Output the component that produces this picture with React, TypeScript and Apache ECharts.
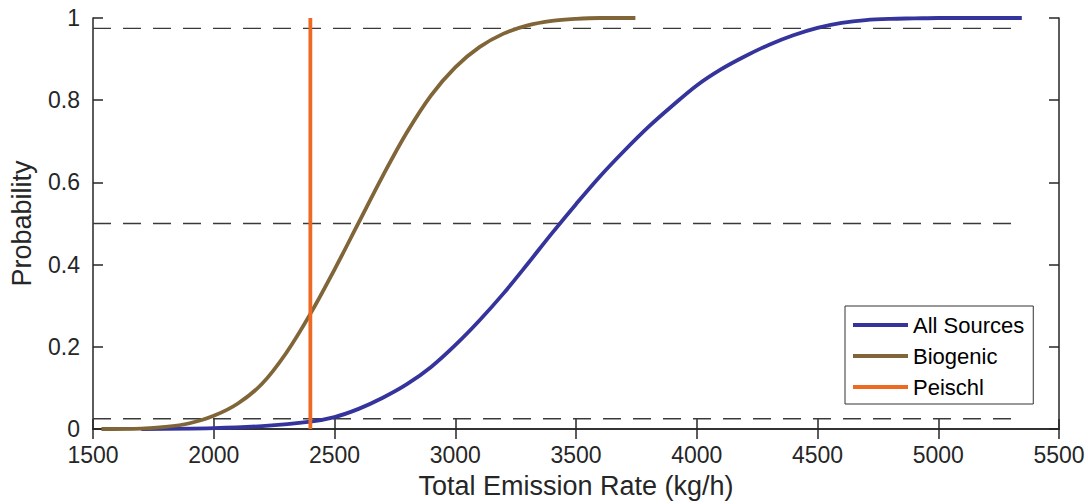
import React, { useEffect, useRef } from "react";
import * as echarts from "echarts";

const xTicks = [1500, 2000, 2500, 3000, 3500, 4000, 4500, 5000, 5500];
const yTicks = [0, 0.2, 0.4, 0.6, 0.8, 1];

const allX = [1700, 2000, 2200, 2400, 2500, 2600, 2700, 2800, 2900, 3000, 3100, 3200, 3300, 3400, 3500, 3600, 3700, 3800, 3900, 4000, 4100, 4200, 4300, 4400, 4500, 4600, 4700, 4800, 4900, 5000, 5346];
const allY = [0, 0.002, 0.007, 0.018, 0.029, 0.049, 0.076, 0.109, 0.151, 0.204, 0.264, 0.33, 0.402, 0.476, 0.547, 0.615, 0.677, 0.735, 0.787, 0.836, 0.875, 0.907, 0.935, 0.958, 0.976, 0.988, 0.995, 0.998, 0.999, 1.0, 1.0];

const bioX = [1535, 1700, 1800, 1900, 2000, 2100, 2200, 2300, 2400, 2500, 2600, 2700, 2800, 2900, 3000, 3100, 3200, 3300, 3400, 3500, 3600, 3746];
const bioY = [0, 0.001, 0.005, 0.014, 0.032, 0.062, 0.11, 0.185, 0.28, 0.388, 0.502, 0.616, 0.722, 0.812, 0.88, 0.929, 0.962, 0.982, 0.993, 0.998, 1.0, 1.0];

const peischlX = [2400, 2400];
const peischlY = [0, 1];

const refLevels = [0.025, 0.5, 0.975];
const refRange = [1500, 5346];

const names = ["All Sources", "Biogenic", "Peischl"];
const colors = ["#34349c", "#806538", "#ee6a22"];

const FONT = "'Liberation Sans', Arial, Helvetica, sans-serif";
const TXT = "#262626";

function zip(xs: number[], ys: number[]) {
  return xs.map((x, i) => [x, ys[i]]);
}

export default function App() {
  const ref = useRef<HTMLDivElement>(null);
  useEffect(() => {
    if (!ref.current) return;
    const chart = echarts.init(ref.current, null, { renderer: "svg" });
    const axisCommon = {
      axisLine: { show: true, lineStyle: { color: TXT, width: 1.5 } },
      axisTick: { show: true, inside: true, length: 10, lineStyle: { color: TXT, width: 1.5 } },
      splitLine: { show: false },
    };
    const refSeries = refLevels.map((lv, i) => ({
      name: "ref" + i,
      type: "line",
      xAxisIndex: 0,
      yAxisIndex: 0,
      data: refRange.map((x) => [x, lv]),
      symbol: "none",
      silent: true,
      lineStyle: { color: "#3a3a3a", width: 1.3, type: [18, 12] },
      z: 1,
    }));
    chart.setOption({
      animation: false,
      backgroundColor: "#ffffff",
      textStyle: { fontFamily: FONT },
      grid: { left: 92, right: 29, top: 18, bottom: 73, containLabel: false },
      legend: {
        data: names,
        orient: "vertical",
        left: 845,
        top: 306,
        icon: "rect",
        itemWidth: 55,
        itemHeight: 4,
        itemGap: 9,
        padding: [8, 9, 6, 8],
        borderColor: "#333333",
        borderWidth: 1,
        backgroundColor: "#ffffff",
        textStyle: { fontSize: 22, color: "#000000", fontFamily: FONT, lineHeight: 22 },
        selectedMode: false,
      },
      xAxis: [
        {
          type: "value",
          min: xTicks[0],
          max: xTicks[xTicks.length - 1],
          interval: 500,
          position: "bottom",
          name: "Total Emission Rate (kg/h)",
          nameLocation: "middle",
          nameGap: 43,
          nameTextStyle: { fontSize: 27, color: TXT, fontFamily: FONT },
          axisLabel: { fontSize: 23, color: TXT, margin: 14, fontFamily: FONT, formatter: (v: number) => String(v) },
          ...axisCommon,
        },
        {
          type: "value",
          min: xTicks[0],
          max: xTicks[xTicks.length - 1],
          interval: 500,
          position: "top",
          axisLabel: { show: false },
          ...axisCommon,
        },
      ],
      yAxis: [
        {
          type: "value",
          min: yTicks[0],
          max: yTicks[yTicks.length - 1],
          interval: 0.2,
          position: "left",
          name: "Probability",
          nameLocation: "middle",
          nameGap: 58,
          nameTextStyle: { fontSize: 27, color: TXT, fontFamily: FONT },
          axisLabel: { fontSize: 23, color: TXT, margin: 13, fontFamily: FONT, formatter: (v: number) => String(v) },
          ...axisCommon,
        },
        {
          type: "value",
          min: yTicks[0],
          max: yTicks[yTicks.length - 1],
          interval: 0.2,
          position: "right",
          axisLabel: { show: false },
          ...axisCommon,
        },
      ],
      series: [
        ...refSeries,
        {
          name: names[0],
          type: "line",
          data: zip(allX, allY),
          symbol: "none",
          smooth: 0.35,
          clip: false,
          lineStyle: { color: colors[0], width: 3.8 },
          itemStyle: { color: colors[0] },
          z: 3,
        },
        {
          name: names[1],
          type: "line",
          data: zip(bioX, bioY),
          symbol: "none",
          smooth: 0.35,
          clip: false,
          lineStyle: { color: colors[1], width: 3.8 },
          itemStyle: { color: colors[1] },
          z: 4,
        },
        {
          name: names[2],
          type: "line",
          data: zip(peischlX, peischlY),
          symbol: "none",
          clip: false,
          lineStyle: { color: colors[2], width: 3.8 },
          itemStyle: { color: colors[2] },
          z: 5,
        },
      ],
    });
    return () => chart.dispose();
  }, []);
  return (
    <div
      ref={ref}
      style={{ position: "fixed", left: 0, top: 0, width: 1088, height: 504, background: "#fff" }}
    />
  );
}
